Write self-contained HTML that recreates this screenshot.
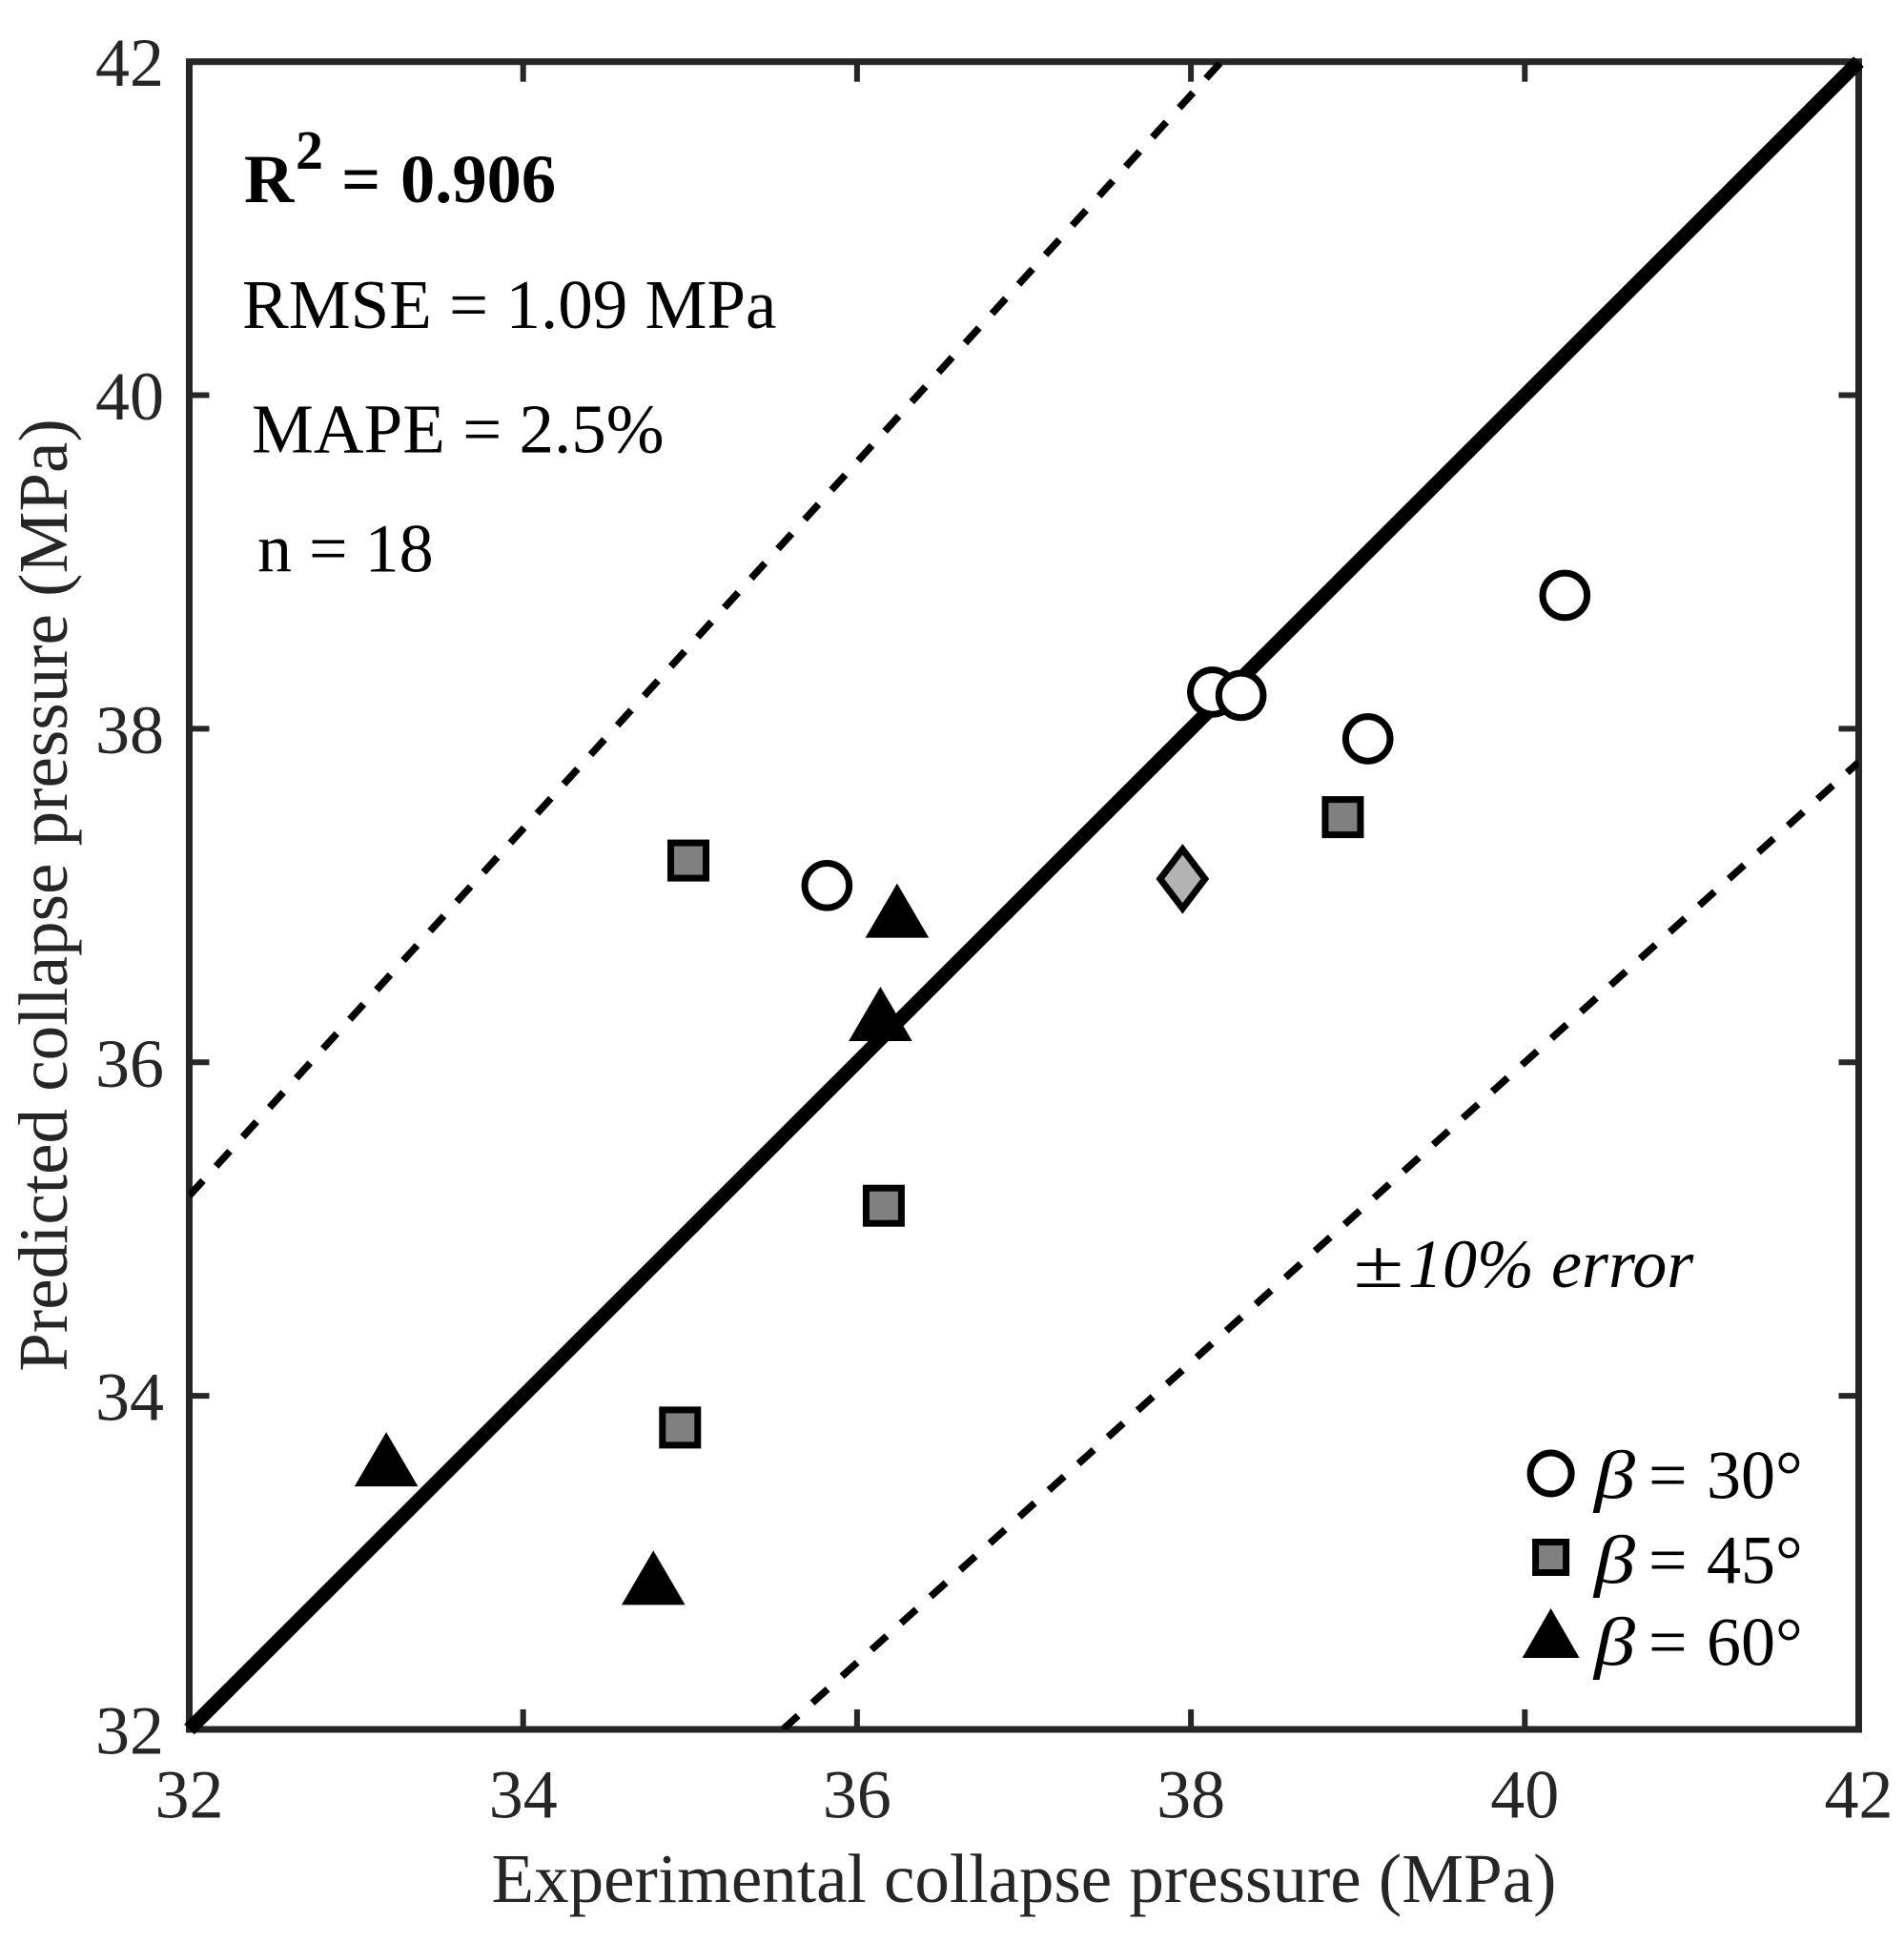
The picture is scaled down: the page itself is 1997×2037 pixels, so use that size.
<!DOCTYPE html>
<html lang="en">
<head>
<meta charset="utf-8">
<title>Predicted vs experimental collapse pressure</title>
<style>
html,body{margin:0;padding:0;background:#fff;}
svg{display:block;}
text{font-family:"Liberation Serif","Times New Roman",serif;}
</style>
</head>
<body>
<svg id="chart" xmlns="http://www.w3.org/2000/svg" width="1997" height="2037" viewBox="0 0 1997 2037">
  <defs>
    <clipPath id="plot-clip"><rect x="198.5" y="64.7" width="1751" height="1749.3"/></clipPath>
  </defs>
  <rect x="0" y="0" width="1997" height="2037" fill="#fff"/>
  <g id="ticks"></g>
  <g id="tick-labels"></g>
  <rect x="198.5" y="64.7" width="1751" height="1749.3" fill="none" stroke="#262626" stroke-width="7"/>
  <g id="ref-lines"></g>
  <g id="marks"></g>

  <text x="1074" y="1995" font-size="73" fill="#262626" text-anchor="middle">Experimental collapse pressure (MPa)</text>
  <text transform="translate(70 939) rotate(-90)" font-size="73" fill="#262626" text-anchor="middle">Predicted collapse pressure (MPa)</text>

  <text y="212" font-size="72.5" font-weight="bold" fill="#000"><tspan x="256">R</tspan><tspan x="310" y="177" font-size="58">2</tspan><tspan x="358" y="212">=</tspan><tspan x="420" y="212">0.906</tspan></text>
  <text x="254" y="344" font-size="73" fill="#000">RMSE = 1.09 MPa</text>
  <text x="264" y="474.6" font-size="73" fill="#000">MAPE = 2.5%</text>
  <text x="270" y="599.6" font-size="72" fill="#000">n = 18</text>
  <g>
    <text transform="translate(1419 1350) scale(1.34 1)" font-size="72" font-style="italic" fill="#000">±</text>
    <text x="1477" y="1350" font-size="72" font-style="italic" fill="#000">10% error</text>
  </g>

  <g>
    <circle cx="1626.6" cy="1545.5" r="21.5" fill="#fff" stroke="#000" stroke-width="7"/>
    <rect x="1610.6" y="1617.5" width="32" height="32" fill="#808080" stroke="#000" stroke-width="7"/>
    <polygon points="1626.6,1687 1656.6,1739 1596.6,1739" fill="#000"/>
    <text transform="translate(1672 1571.7) scale(1.2 1)" font-size="72" font-style="italic" fill="#000">β</text>
    <text y="1571.7" font-size="72" fill="#000"><tspan x="1729">=</tspan><tspan x="1790">30°</tspan></text>
    <text transform="translate(1672 1660.5) scale(1.2 1)" font-size="72" font-style="italic" fill="#000">β</text>
    <text y="1660.5" font-size="72" fill="#000"><tspan x="1729">=</tspan><tspan x="1790">45°</tspan></text>
    <text transform="translate(1672 1746.6) scale(1.2 1)" font-size="72" font-style="italic" fill="#000">β</text>
    <text y="1746.6" font-size="72" fill="#000"><tspan x="1729">=</tspan><tspan x="1790">60°</tspan></text>
  </g>
</svg>
<script>
var xTicks = [32, 34, 36, 38, 40, 42];
var yTicks = [32, 34, 36, 38, 40, 42];
var circleX = [35.82, 38.13, 38.30, 39.06, 40.24];
var circleY = [37.06, 38.22, 38.20, 37.94, 38.80];
var squareX = [34.99, 36.16, 34.94, 38.91];
var squareY = [37.21, 35.14, 33.81, 37.47];
var diamondX = [37.95];
var diamondY = [37.10];
var triangleX = [36.24, 36.14, 33.18, 34.78];
var triangleY = [36.91, 36.29, 33.62, 32.91];
var errorRatios = [1.1, 0.9];
var axisMin = 32;
var axisMax = 42;

var NS = 'http://www.w3.org/2000/svg';
function sx(v){ return 198.5 + (v - axisMin) * (1751 / (axisMax - axisMin)); }
function sy(v){ return 1814 - (v - axisMin) * (1749.3 / (axisMax - axisMin)); }
function make(tag, parent, attrs){
  var el = document.createElementNS(NS, tag);
  for (var k in attrs) { el.setAttribute(k, attrs[k]); }
  parent.appendChild(el);
  return el;
}

var tickGroup = document.getElementById('ticks');
var labelGroup = document.getElementById('tick-labels');
var tickLen = 21;
var tickStyle = {stroke:'#262626', 'stroke-width':6};
function tick(x1, y1, x2, y2, name){
  var t = make('line', tickGroup, {x1:x1, y1:y1, x2:x2, y2:y2, stroke:tickStyle.stroke, 'stroke-width':tickStyle['stroke-width']});
  
  
}
xTicks.forEach(function(v){
  var x = sx(v);
  tick(x, sy(axisMin), x, sy(axisMin) - tickLen, 'x-tick-bottom-' + v);
  tick(x, sy(axisMax), x, sy(axisMax) + tickLen, 'x-tick-top-' + v);
  var l = make('text', labelGroup, {x:x, y:1906.7, 'font-size':72, fill:'#262626', 'text-anchor':'middle'});
  l.textContent = String(v);
  
  
});
yTicks.forEach(function(v){
  var y = sy(v);
  tick(sx(axisMin), y, sx(axisMin) + tickLen, y, 'y-tick-left-' + v);
  tick(sx(axisMax), y, sx(axisMax) - tickLen, y, 'y-tick-right-' + v);
  var l = make('text', labelGroup, {x:172, y:y + 25.5, 'font-size':72, fill:'#262626', 'text-anchor':'end'});
  l.textContent = String(v);
  
  
});

var refGroup = document.getElementById('ref-lines');
errorRatios.forEach(function(r){
  var startX = Math.max(axisMin, axisMin / r);
  var endX = Math.min(axisMax, axisMax / r);
  var d = make('line', refGroup, {
    x1:sx(startX), y1:sy(startX * r), x2:sx(endX), y2:sy(endX * r),
    stroke:'#000', 'stroke-width':7.5, 'stroke-dasharray':'21.5 20.2', 'clip-path':'url(#plot-clip)'
  });
  
  
});
var unity = make('line', refGroup, {x1:sx(axisMin), y1:sy(axisMin), x2:sx(axisMax), y2:sy(axisMax), stroke:'#000', 'stroke-width':15});



var markGroup = document.getElementById('marks');
triangleX.forEach(function(v, i){
  var x = sx(v), y = sy(triangleY[i]);
  var p = make('polygon', markGroup, {points:x + ',' + (y - 28.5) + ' ' + (x + 33.3) + ',' + (y + 28.5) + ' ' + (x - 33.3) + ',' + (y + 28.5), fill:'#000'});
  
  
});
squareX.forEach(function(v, i){
  var x = sx(v), y = sy(squareY[i]);
  var p = make('rect', markGroup, {x:x - 18.5, y:y - 18.5, width:37, height:37, fill:'#808080', stroke:'#000', 'stroke-width':7});
  
  
});
diamondX.forEach(function(v, i){
  var x = sx(v), y = sy(diamondY[i]);
  var p = make('polygon', markGroup, {points:x + ',' + (y - 31) + ' ' + (x + 23.5) + ',' + y + ' ' + x + ',' + (y + 31) + ' ' + (x - 23.5) + ',' + y, fill:'#b3b3b3', stroke:'#000', 'stroke-width':7});
  
  
});
circleX.forEach(function(v, i){
  var p = make('circle', markGroup, {cx:sx(v), cy:sy(circleY[i]), r:23.3, fill:'#fff', stroke:'#000', 'stroke-width':7});
  
  
});
</script>
</body>
</html>
